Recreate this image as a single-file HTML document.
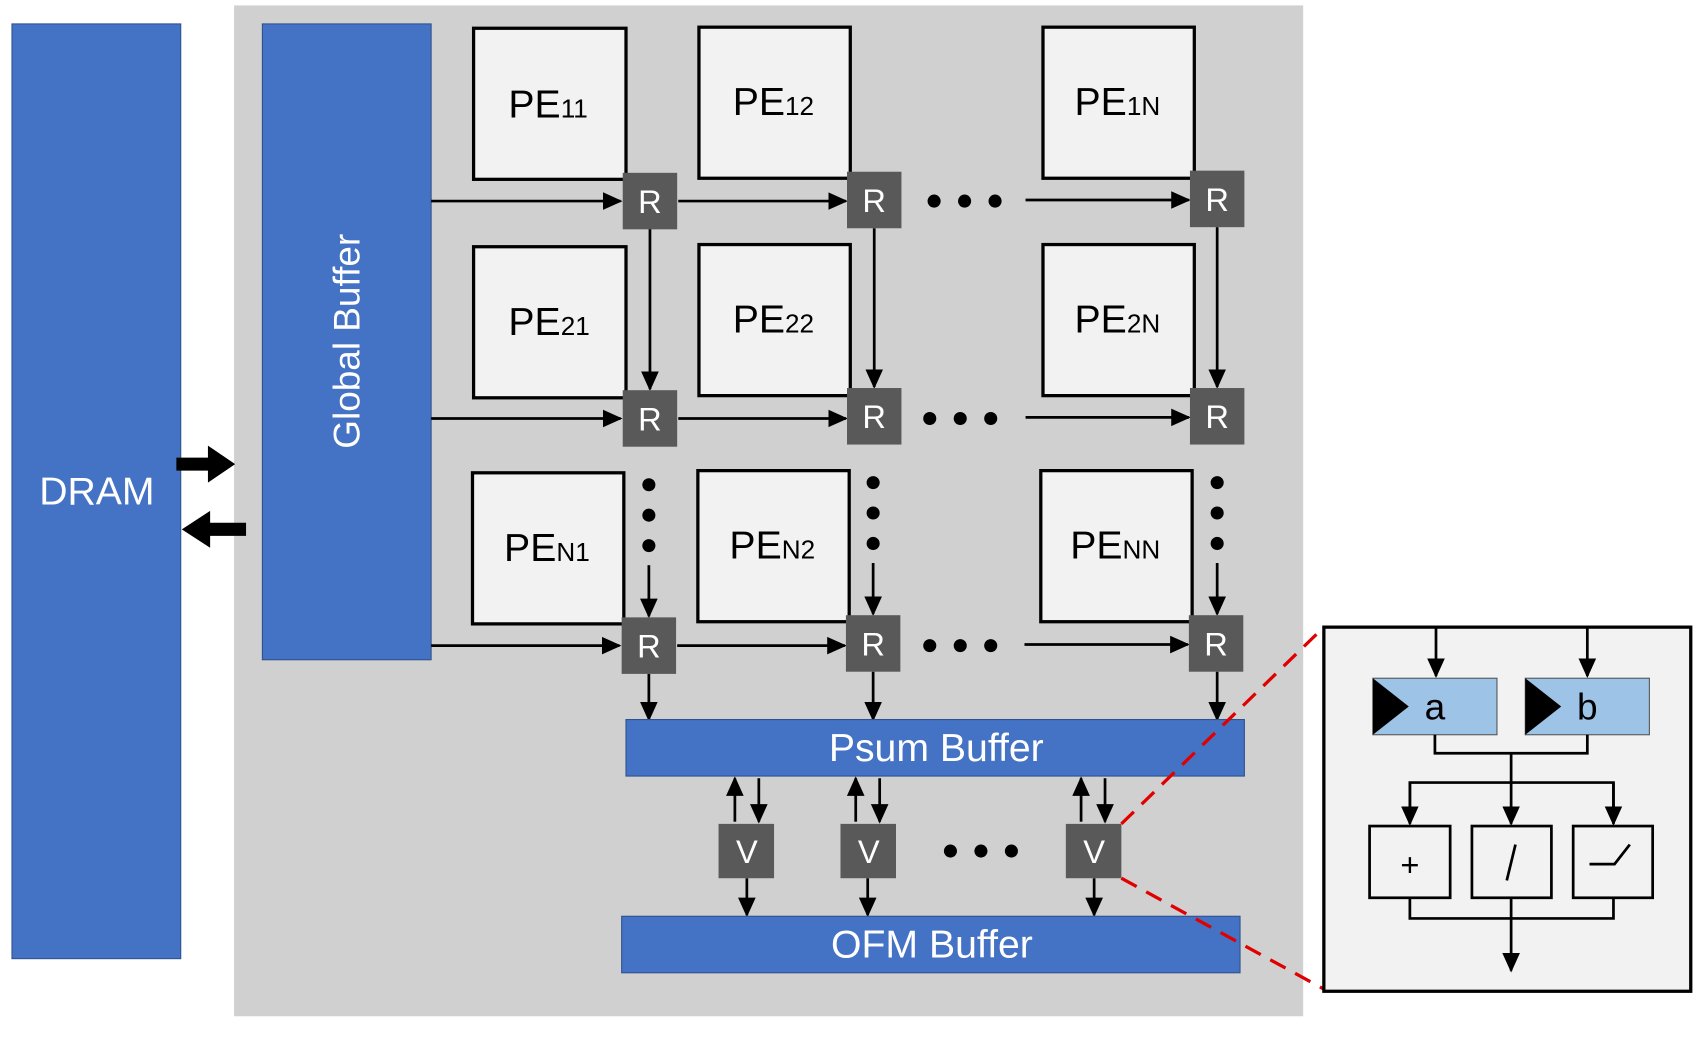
<!DOCTYPE html>
<html><head><meta charset="utf-8"><style>html,body{margin:0;padding:0;background:#fff}svg{display:block}</style></head>
<body>
<svg width="1706" height="1038" viewBox="0 0 1567 955" preserveAspectRatio="none" xmlns="http://www.w3.org/2000/svg" font-family="Liberation Sans, sans-serif">
<defs>
<marker id="ah" viewBox="0 0 10 10" refX="9" refY="5" markerWidth="18" markerHeight="18" markerUnits="userSpaceOnUse" orient="auto"><path d="M0,0.5 L10,5 L0,9.5 z" fill="#000"/></marker>
</defs>
<rect x="215" y="5" width="982" height="930" fill="#d0d0d0"/>
<rect x="11" y="22" width="155" height="860" fill="#4472c4" stroke="#2f528f" stroke-width="1"/>
<text x="89" y="464" font-size="36" fill="#fff" text-anchor="middle">DRAM</text>
<rect x="241" y="22" width="155" height="585" fill="#4472c4" stroke="#2f528f" stroke-width="1"/>
<text transform="translate(330,314) rotate(-90)" font-size="34" fill="#fff" text-anchor="middle">Global Buffer</text>
<path d="M162,421 H191 V410 L216,427 L191,444 V433 H162 z" fill="#000"/>
<path d="M226,481 H193 V470 L167,487 L193,504 V493 H226 z" fill="#000"/>
<g fill="#f2f2f2" stroke="#000" stroke-width="3">
<rect x="435" y="26" width="140" height="139"/><rect x="642" y="25" width="139" height="139"/><rect x="958" y="25" width="139" height="139"/>
<rect x="435" y="227" width="140" height="139"/><rect x="642" y="225" width="139" height="139"/><rect x="958" y="225" width="139" height="139"/>
<rect x="434" y="435" width="139" height="139"/><rect x="641" y="433" width="139" height="139"/><rect x="956" y="433" width="139" height="139"/>
</g>
<g font-size="36" fill="#000">
<text x="467" y="108">PE<tspan font-size="24">11</tspan></text>
<text x="673" y="106">PE<tspan font-size="24">12</tspan></text>
<text x="987" y="106">PE<tspan font-size="24">1N</tspan></text>
<text x="467" y="308">PE<tspan font-size="24">21</tspan></text>
<text x="673" y="306">PE<tspan font-size="24">22</tspan></text>
<text x="987" y="306">PE<tspan font-size="24">2N</tspan></text>
<text x="463" y="516">PE<tspan font-size="24">N1</tspan></text>
<text x="670" y="514">PE<tspan font-size="24">N2</tspan></text>
<text x="983" y="514">PE<tspan font-size="24">NN</tspan></text>
</g>
<g stroke="#000" stroke-width="2.5" marker-end="url(#ah)">
<line x1="396" y1="185" x2="570" y2="185"/><line x1="623" y1="185" x2="777" y2="185"/><line x1="942" y1="184" x2="1092" y2="184"/>
<line x1="396" y1="385" x2="570" y2="385"/><line x1="623" y1="385" x2="777" y2="385"/><line x1="942" y1="384" x2="1092" y2="384"/>
<line x1="396" y1="594" x2="569" y2="594"/><line x1="622" y1="594" x2="776" y2="594"/><line x1="941" y1="593" x2="1091" y2="593"/>
<line x1="597" y1="210" x2="597" y2="358"/><line x1="803" y1="210" x2="803" y2="356"/><line x1="1118" y1="209" x2="1118" y2="356"/>
<line x1="596" y1="520" x2="596" y2="567"/><line x1="802" y1="518" x2="802" y2="565"/><line x1="1118" y1="518" x2="1118" y2="565"/>
<line x1="596" y1="620" x2="596" y2="662"/><line x1="802" y1="618" x2="802" y2="662"/><line x1="1118" y1="618" x2="1118" y2="662"/>
<line x1="675" y1="756" x2="675" y2="716"/><line x1="697" y1="716" x2="697" y2="756"/>
<line x1="786" y1="756" x2="786" y2="716"/><line x1="808" y1="716" x2="808" y2="756"/>
<line x1="993" y1="756" x2="993" y2="716"/><line x1="1015" y1="716" x2="1015" y2="756"/>
<line x1="686" y1="808" x2="686" y2="842"/><line x1="797" y1="808" x2="797" y2="842"/><line x1="1005" y1="808" x2="1005" y2="842"/>
</g>
<g fill="#000">
<circle cx="858" cy="185" r="6"/><circle cx="886" cy="185" r="6"/><circle cx="914" cy="185" r="6"/>
<circle cx="854" cy="385" r="6"/><circle cx="882" cy="385" r="6"/><circle cx="910" cy="385" r="6"/>
<circle cx="854" cy="594" r="6"/><circle cx="882" cy="594" r="6"/><circle cx="910" cy="594" r="6"/>
<circle cx="873" cy="783" r="6"/><circle cx="901" cy="783" r="6"/><circle cx="929" cy="783" r="6"/>
<circle cx="596" cy="446" r="6"/><circle cx="596" cy="474" r="6"/><circle cx="596" cy="502" r="6"/>
<circle cx="802" cy="444" r="6"/><circle cx="802" cy="472" r="6"/><circle cx="802" cy="500" r="6"/>
<circle cx="1118" cy="444" r="6"/><circle cx="1118" cy="472" r="6"/><circle cx="1118" cy="500" r="6"/>
</g>
<g fill="#595959">
<rect x="572" y="159" width="50" height="52"/><rect x="778" y="158" width="50" height="52"/><rect x="1093" y="157" width="50" height="52"/>
<rect x="572" y="359" width="50" height="52"/><rect x="778" y="357" width="50" height="52"/><rect x="1093" y="357" width="50" height="52"/>
<rect x="571" y="568" width="50" height="52"/><rect x="777" y="566" width="50" height="52"/><rect x="1092" y="566" width="50" height="52"/>
<rect x="660" y="758" width="51" height="50"/><rect x="772" y="758" width="51" height="50"/><rect x="979" y="758" width="51" height="50"/>
</g>
<g font-size="30" fill="#fff" text-anchor="middle">
<text x="597" y="196">R</text><text x="803" y="195">R</text><text x="1118" y="194">R</text>
<text x="597" y="396">R</text><text x="803" y="394">R</text><text x="1118" y="394">R</text>
<text x="596" y="605">R</text><text x="802" y="603">R</text><text x="1117" y="603">R</text>
<text x="686" y="794">V</text><text x="798" y="794">V</text><text x="1005" y="794">V</text>
</g>
<rect x="575" y="662" width="568" height="52" fill="#4472c4" stroke="#2f528f"/>
<text x="860" y="700" font-size="36" fill="#fff" text-anchor="middle">Psum Buffer</text>
<rect x="571" y="843" width="568" height="52" fill="#4472c4" stroke="#2f528f"/>
<text x="856" y="881" font-size="36" fill="#fff" text-anchor="middle">OFM Buffer</text>
<g stroke="#e00000" stroke-width="3" stroke-dasharray="16,10">
<line x1="1030" y1="758" x2="1216" y2="577"/><line x1="1030" y1="808" x2="1216" y2="910"/>
</g>
<rect x="1216" y="577" width="337" height="335" fill="#f2f2f2" stroke="#000" stroke-width="3"/>
<rect x="1261" y="624" width="114" height="52" fill="#9dc3e6" stroke="#555"/>
<rect x="1401" y="624" width="114" height="52" fill="#9dc3e6" stroke="#555"/>
<path d="M1261,624 L1294,650 L1261,676 z M1401,624 L1434,650 L1401,676 z" fill="#000"/>
<text x="1318" y="662" font-size="34" text-anchor="middle">a</text>
<text x="1458" y="662" font-size="34" text-anchor="middle">b</text>
<g fill="#f2f2f2" stroke="#000" stroke-width="2.5">
<rect x="1258" y="760" width="74" height="66"/><rect x="1352" y="760" width="73" height="66"/><rect x="1445" y="760" width="73" height="66"/>
</g>
<text x="1295" y="806" font-size="30" text-anchor="middle">+</text>
<g stroke="#000" stroke-width="2.5" fill="none">
<line x1="1392" y1="777" x2="1384" y2="810"/>
<path d="M1460,795 L1483,795 L1497,777"/>
<path d="M1318,676 V693 H1458 V676"/>
<path d="M1295,826 V845 H1482 V826"/>
<path d="M1295,757 V720 H1482 V757"/>
</g>
<g stroke="#000" stroke-width="2.5" marker-end="url(#ah)">
<line x1="1319" y1="578" x2="1319" y2="622"/><line x1="1458" y1="578" x2="1458" y2="622"/>
<line x1="1295" y1="720" x2="1295" y2="758"/><line x1="1482" y1="720" x2="1482" y2="758"/>
<line x1="1388" y1="693" x2="1388" y2="758"/>
<line x1="1388" y1="826" x2="1388" y2="893"/>
</g>
</svg>
</body></html>
